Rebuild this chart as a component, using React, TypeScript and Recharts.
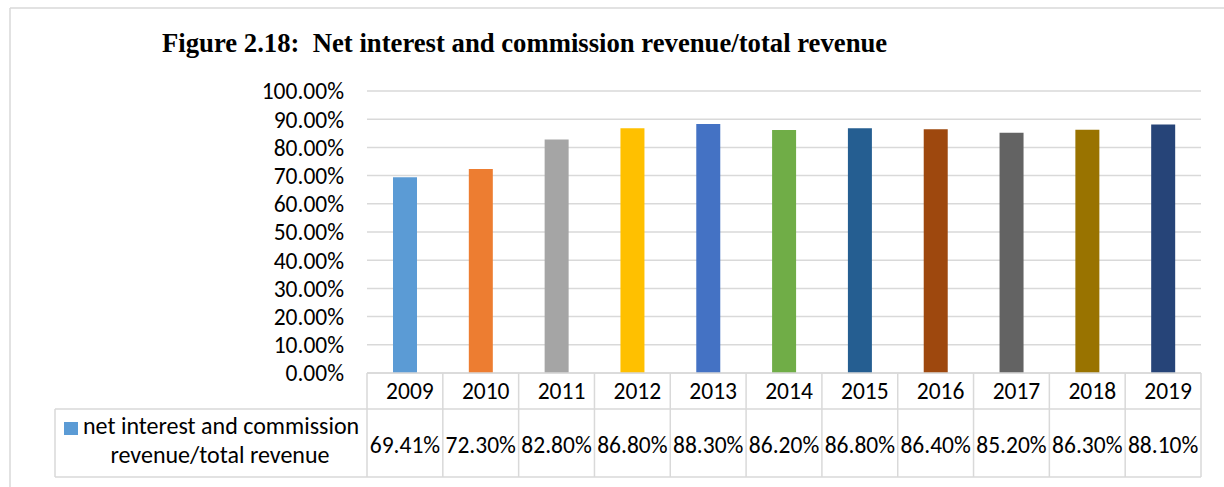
import React from "react";
import { BarChart, Bar, XAxis, YAxis, CartesianGrid, Cell, Customized } from "recharts";

const years = ["2009", "2010", "2011", "2012", "2013", "2014", "2015", "2016", "2017", "2018", "2019"];
const ratios = [69.41, 72.3, 82.8, 86.8, 88.3, 86.2, 86.8, 86.4, 85.2, 86.3, 88.1];
const barColors = ["#5B9BD5", "#ED7D31", "#A5A5A5", "#FFC000", "#4472C4", "#70AD47", "#255E91", "#9E480E", "#636363", "#997300", "#264478"];
const yTicks = [0, 10, 20, 30, 40, 50, 60, 70, 80, 90, 100];
const seriesName = ["net interest and commission", "revenue/total revenue"];
const titleText = "Figure 2.18:  Net interest and commission revenue/total revenue";

const data = years.map((y, i) => ({ year: y, value: ratios[i] }));

const FONT = "Carlito, Lato, sans-serif";
const FS = 23.5;
const GRID = "#d9d9d9";

const TableTick = (props: any) => {
  const { x, y, payload, index } = props;
  const n = years.length;
  const plotLeft = 367;
  const plotRight = 1201;
  const bw = (plotRight - plotLeft) / n;
  const left = x - bw / 2;
  const right = x + bw / 2;
  const top = y;
  return (
    <g>
      <line x1={left} y1={top} x2={left} y2={top + 104} stroke={GRID} strokeWidth={1.5} />
      {index === n - 1 && <line x1={right} y1={top} x2={right} y2={top + 104} stroke={GRID} strokeWidth={1.5} />}
      <text x={x + 5} y={top + 26} textAnchor="middle" fontFamily={FONT} fontSize={FS} fill="#000">
        {payload.value}
      </text>
      <text x={x} y={top + 80} textAnchor="middle" fontFamily={FONT} fontSize={FS} fill="#000">
        {ratios[index].toFixed(2) + "%"}
      </text>
    </g>
  );
};

const Decorations = () => (
  <g>
    <line x1={10} y1={8} x2={1224} y2={8} stroke={GRID} strokeWidth={1.5} />
    <line x1={10} y1={8} x2={10} y2={487} stroke={GRID} strokeWidth={1.5} />
    <text x={162} y={52} fontFamily="Liberation Serif, Times New Roman, serif" fontWeight="bold" fontSize={26.7} fill="#000" style={{ whiteSpace: "pre" }}>
      {titleText}
    </text>
    <line x1={55} y1={409} x2={1201} y2={409} stroke={GRID} strokeWidth={1.5} />
    <line x1={55} y1={477} x2={1201} y2={477} stroke={GRID} strokeWidth={1.5} />
    <line x1={55} y1={409} x2={55} y2={477} stroke={GRID} strokeWidth={1.5} />
    <rect x={64} y={422} width={14} height={13} fill={barColors[0]} />
    <text x={83} y={434} fontFamily={FONT} fontSize={24} fill="#000">{seriesName[0]}</text>
    <text x={220} y={463} textAnchor="middle" fontFamily={FONT} fontSize={24} fill="#000">{seriesName[1]}</text>
  </g>
);

export default function App() {
  return (
    <div style={{ position: "absolute", left: 0, top: 0, width: 1224, height: 487, background: "#fff" }}>
      <BarChart width={1224} height={487} data={data} margin={{ top: 91, right: 23, bottom: 10, left: 0 }} barCategoryGap={26}>
        <CartesianGrid horizontal vertical={false} stroke={GRID} strokeWidth={1.5} />
        <XAxis
          dataKey="year"
          height={104}
          axisLine={{ stroke: GRID, strokeWidth: 1.5 }}
          tickLine={false}
          tick={<TableTick />}
          interval={0}
          tickSize={0}
          tickMargin={0}
        />
        <YAxis
          width={367}
          domain={[0, 100]}
          ticks={yTicks}
          axisLine={false}
          tickLine={false}
          tickSize={0}
          tickMargin={23}
          tickFormatter={(v: number) => v.toFixed(2) + "%"}
          tick={{ fontFamily: FONT, fontSize: FS, fill: "#000" }}
          interval={0}
        />
        <Bar dataKey="value" isAnimationActive={false} barSize={24}>
          {data.map((d, i) => (
            <Cell key={d.year} fill={barColors[i]} />
          ))}
        </Bar>
        <Customized component={Decorations} />
      </BarChart>
    </div>
  );
}
